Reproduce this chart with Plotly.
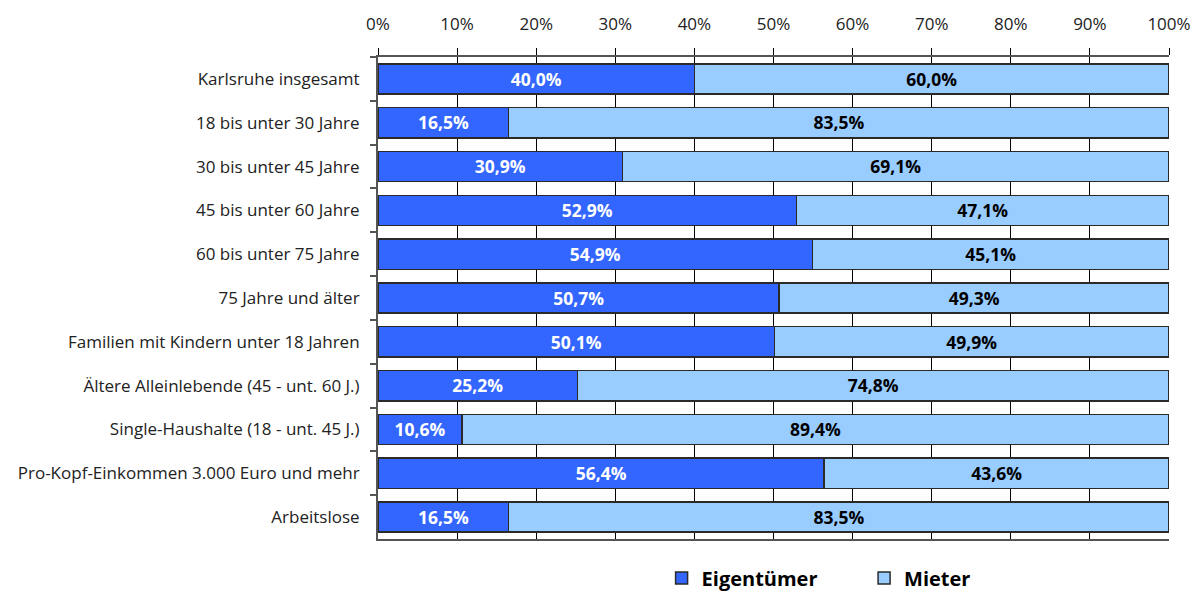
import plotly.graph_objects as go

categories = [
    "Karlsruhe insgesamt",
    "18 bis unter 30 Jahre",
    "30 bis unter 45 Jahre",
    "45 bis unter 60 Jahre",
    "60 bis unter 75 Jahre",
    "75 Jahre und älter",
    "Familien mit Kindern unter 18 Jahren",
    "Ältere Alleinlebende (45 - unt. 60 J.)",
    "Single-Haushalte (18 - unt. 45 J.)",
    "Pro-Kopf-Einkommen 3.000 Euro und mehr",
    "Arbeitslose",
]
eigentuemer = [40.0, 16.5, 30.9, 52.9, 54.9, 50.7, 50.1, 25.2, 10.6, 56.4, 16.5]
mieter = [60.0, 83.5, 69.1, 47.1, 45.1, 49.3, 49.9, 74.8, 89.4, 43.6, 83.5]
tick_vals = [0, 10, 20, 30, 40, 50, 60, 70, 80, 90, 100]
tick_text = [f"{v}%" for v in tick_vals]

def fmt(v):
    return f"{v:.1f}%".replace(".", ",")

FONT = "Open Sans"
NB = "\u00a0"

fig = go.Figure()
fig.add_trace(go.Bar(
    y=categories, x=eigentuemer, orientation="h", name="Eigentümer" + NB * 8,
    marker=dict(color="#3366FF", line=dict(color="#2a2a2a", width=1.5)),
    text=[fmt(v) for v in eigentuemer], textposition="inside",
    insidetextanchor="middle",
    textfont=dict(family=FONT, size=19.5, color="white", weight="bold"),
))
fig.add_trace(go.Bar(
    y=categories, x=mieter, orientation="h", name="Mieter",
    marker=dict(color="#99CCFF", line=dict(color="#2a2a2a", width=1.5)),
    text=[fmt(v) for v in mieter], textposition="inside",
    insidetextanchor="middle",
    textfont=dict(family=FONT, size=19.5, color="black", weight="bold"),
))

# page body has an 8px default margin; compensate so the plot lands at the right pixels
fig.update_layout(
    barmode="stack",
    bargap=0.31,
    width=1194, height=584,
    margin=dict(l=370, r=33, t=49, b=53, autoexpand=False),
    paper_bgcolor="white", plot_bgcolor="white",
    font=dict(family=FONT, size=17, color="#222222"),
    showlegend=True,
    legend=dict(orientation="h", x=0.557, xanchor="center",
                yref="container", y=0.024, yanchor="middle",
                font=dict(family=FONT, size=20, color="black", weight="bold"),
                itemwidth=30, traceorder="normal", itemclick=False),
    uniformtext=dict(minsize=10, mode="show"),
)
fig.update_xaxes(
    side="top", range=[0, 100], tickvals=tick_vals, ticktext=tick_text,
    showgrid=True, gridcolor="black", gridwidth=1.2,
    ticks="outside", ticklen=7, tickcolor="black", tickwidth=1.2,
    showline=True, linecolor="#555555", linewidth=2, mirror=True,
    tickfont=dict(family=FONT, size=17, color="#222222"), zeroline=False,
    ticklabelstandoff=11, automargin=False,
)
fig.update_yaxes(
    autorange="reversed", type="category",
    ticks="outside", tickson="boundaries", ticklen=6, tickcolor="#555555", tickwidth=1.5,
    showline=True, linecolor="#555555", linewidth=2,
    showgrid=False, ticklabelstandoff=13, automargin=False,
    tickfont=dict(family=FONT, size=17, color="#222222"),
)

fig.write_html("out.html")
